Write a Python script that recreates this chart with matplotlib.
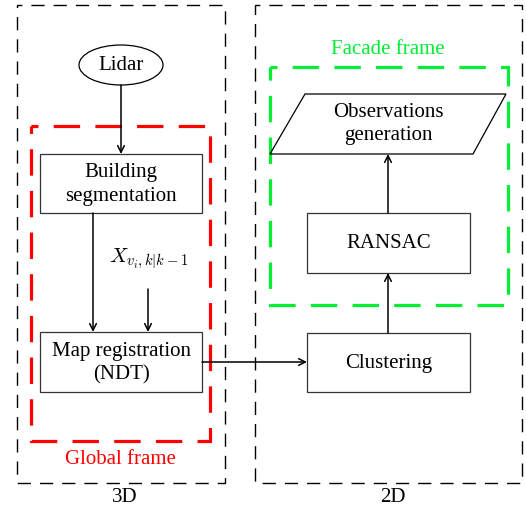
import matplotlib.pyplot as plt
from matplotlib.patches import Rectangle, Ellipse, Polygon

plt.rcParams['font.family'] = ['Liberation Serif', 'DejaVu Serif']
plt.rcParams['mathtext.fontset'] = 'cm'
plt.rcParams['lines.scale_dashes'] = False

# node texts
lidar_label = 'Lidar'
box_labels = ['Building\nsegmentation', 'Map registration\n(NDT)', 'Clustering', 'RANSAC']
obs_label = 'Observations\ngeneration'
meas_label = r'$X_{v_i,k|k-1}$'
frame_labels = ['Global frame', 'Facade frame']
domain_labels = ['3D', '2D']

# layout in pixel coordinates (x0, y0, x1, y1)
box_pos = [(40, 154, 202, 213), (40, 332, 202, 392), (307, 333, 470, 392), (307, 213, 470, 273)]
domain_pos = [(17, 5, 225, 483), (255, 5, 522, 483)]
frame_pos = [(31, 126, 210, 441), (270, 67, 508, 305)]
frame_colors = ['#ff0000', '#00ee33']

fig = plt.figure(figsize=(5.26, 5.12), dpi=100)
ax = fig.add_axes([0, 0, 1, 1])
ax.set_xlim(0, 526)
ax.set_ylim(512, 0)
ax.axis('off')

fs = 15

def rect(p, **kw):
    ax.add_patch(Rectangle((p[0], p[1]), p[2] - p[0], p[3] - p[1], fill=False, **kw))

# 3D / 2D outer frames
for p, lab in zip(domain_pos, domain_labels):
    rect(p, ec='black', lw=1.0, ls=(6, (9.5, 6.5)))
    ax.text((p[0] + p[2]) / 2 + 4, 497, lab, ha='center', va='center', fontsize=fs)

# coloured frames
for p, lab, c in zip(frame_pos, frame_labels, frame_colors):
    rect(p, ec=c, lw=2.3, ls=(14, (19, 11)), joinstyle='miter')
ax.text(120, 459, frame_labels[0], color=frame_colors[0], ha='center', va='center', fontsize=fs)
ax.text(388, 50, frame_labels[1], color=frame_colors[1], ha='center', va='center', fontsize=fs)

# Lidar ellipse
ax.add_patch(Ellipse((121, 65), 84, 40, fill=False, ec='black', lw=0.9))
ax.text(121, 66, lidar_label, ha='center', va='center', fontsize=fs)

# boxes
for p, lab in zip(box_pos, box_labels):
    rect(p, ec='#333333', lw=0.9)
    ax.text((p[0] + p[2]) / 2, (p[1] + p[3]) / 2 + 1, lab, ha='center', va='center',
            fontsize=fs, linespacing=1.3)

# observations parallelogram
ax.add_patch(Polygon([(305, 94), (506, 94), (473, 154), (270, 154)], closed=True,
                     fill=False, ec='black', lw=0.9))
ax.text(388, 124, obs_label, ha='center', va='center', fontsize=fs, linespacing=1.3)

# measurement label
ax.text(149, 259, meas_label, ha='center', va='center', fontsize=15)

def arrow(x0, y0, x1, y1):
    ax.annotate('', xy=(x1, y1), xytext=(x0, y0),
                arrowprops=dict(arrowstyle='->', lw=1.1, color='black',
                                shrinkA=0, shrinkB=0, mutation_scale=12))

arrow(121, 85, 121, 154)
arrow(93, 213, 93, 332)
arrow(148, 289, 148, 332)
arrow(202, 362, 307, 362)
arrow(388, 333, 388, 273)
arrow(388, 213, 388, 154)

fig.savefig('out.png', dpi=100)
